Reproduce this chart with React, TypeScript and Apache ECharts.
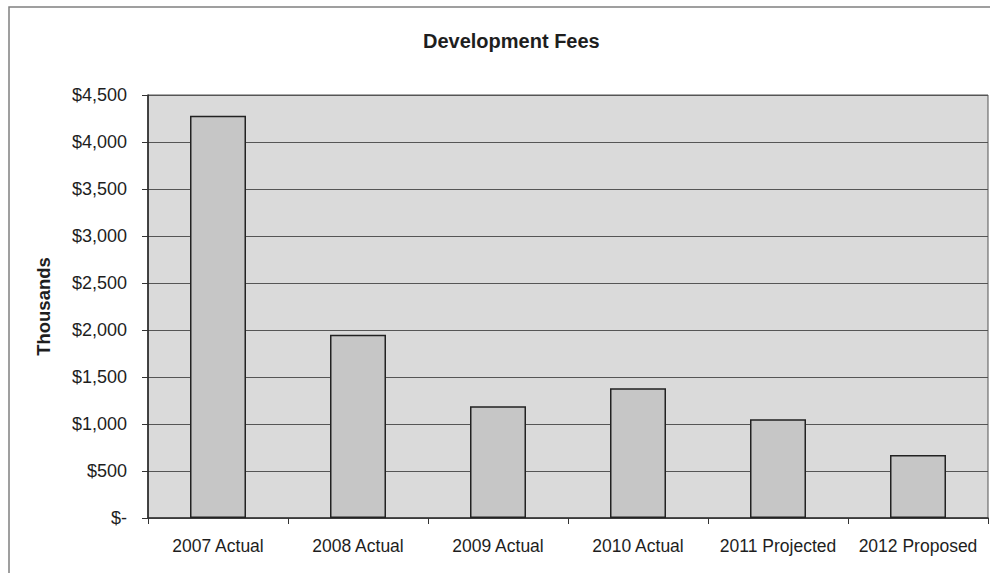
import React, { useEffect, useRef } from "react";
import * as echarts from "echarts";

const categories = ["2007 Actual", "2008 Actual", "2009 Actual", "2010 Actual", "2011 Projected", "2012 Proposed"];
const fees = [4280, 1950, 1190, 1380, 1050, 670];
const yTicks = [0, 500, 1000, 1500, 2000, 2500, 3000, 3500, 4000, 4500];

function fmt(v: number): string {
  if (v === 0) return "$-";
  return "$" + v.toLocaleString("en-US");
}

export default function App() {
  const ref = useRef<HTMLDivElement>(null);
  useEffect(() => {
    if (!ref.current) return;
    const chart = echarts.init(ref.current, undefined, { renderer: "svg" });
    chart.setOption({
      animation: false,
      backgroundColor: "#ffffff",
      title: {
        text: "Development Fees",
        left: 418,
        top: 26,
        textStyle: { fontFamily: "Liberation Sans", fontSize: 20, fontWeight: "bold", color: "#1e1e1e" },
      },
      graphic: [
        {
          type: "rect",
          shape: { x: 9, y: 7, width: 1000, height: 600 },
          style: { fill: "none", stroke: "#808080", lineWidth: 1.5 },
          silent: true,
        },
      ],
      grid: {
        left: 148,
        top: 95,
        right: 2,
        bottom: 55,
        show: true,
        backgroundColor: "#dadada",
        borderColor: "#555",
        borderWidth: 1,
      },
      xAxis: {
        type: "category",
        data: categories,
        axisLine: { show: true, lineStyle: { color: "#333", width: 1.5 } },
        axisTick: { show: true, interval: 0, length: 6, lineStyle: { color: "#333" } },
        axisLabel: {
          interval: 0,
          hideOverlap: false,
          margin: 19,
          fontFamily: "Liberation Sans",
          fontSize: 17.5,
          color: "#1e1e1e",
        },
      },
      yAxis: {
        type: "value",
        min: yTicks[0],
        max: yTicks[yTicks.length - 1],
        interval: 500,
        name: "Thousands",
        nameLocation: "middle",
        nameGap: 95,
        nameRotate: 90,
        nameTextStyle: { fontFamily: "Liberation Sans", fontSize: 18.5, fontWeight: "bold", color: "#1e1e1e" },
        axisLine: { show: true, lineStyle: { color: "#222", width: 1.5 } },
        axisTick: { show: true, length: 6, lineStyle: { color: "#333" } },
        axisLabel: {
          margin: 21,
          fontFamily: "Liberation Sans",
          fontSize: 18,
          color: "#1e1e1e",
          formatter: (v: number) => fmt(v),
        },
        splitLine: { show: true, lineStyle: { color: "#555", width: 1.2 } },
      },
      series: [
        {
          type: "bar",
          data: fees,
          barWidth: "40%",
          itemStyle: { color: "#c6c6c6", borderColor: "#222", borderWidth: 1.5 },
        },
      ],
    });
    return () => chart.dispose();
  }, []);
  return (
    <div
      ref={ref}
      style={{ position: "fixed", left: 0, top: 0, width: 990, height: 573 }}
    />
  );
}
